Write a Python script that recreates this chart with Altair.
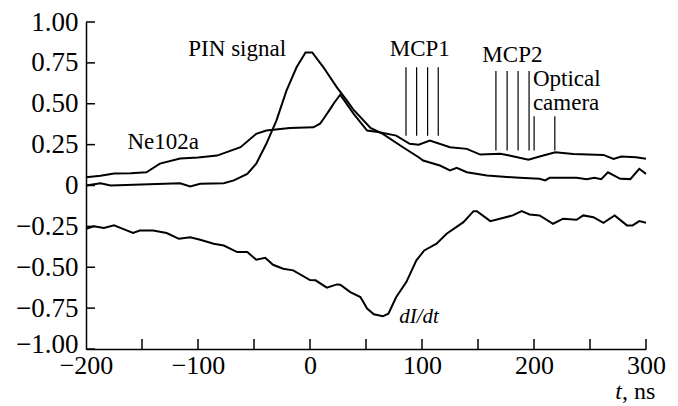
import altair as alt
import pandas as pd

# ---- data ----
ne_t = [-200, -187, -175, -160, -146, -134, -116, -100, -83, -62, -48, -39, -18, 3, 9, 12, 19, 21, 27,
        39, 51, 62, 77, 89, 97, 107, 125, 140, 152, 170, 178, 195, 205, 219, 235, 262, 271, 278, 291, 300]
ne_v = [0.05, 0.06, 0.073, 0.075, 0.081, 0.134, 0.165, 0.172, 0.183, 0.234, 0.316, 0.336, 0.352, 0.356, 0.378,
        0.407, 0.478, 0.5, 0.556, 0.438, 0.336, 0.326, 0.305, 0.255, 0.25, 0.275, 0.234, 0.224, 0.189, 0.194,
        0.183, 0.157, 0.177, 0.203, 0.193, 0.187, 0.163, 0.177, 0.173, 0.163]

pin_t = [-200, -187, -178, -116, -107, -98, -77, -68, -56, -48, -39, -30, -21, -12, -4, 2, 12, 24, 33,
         39, 54, 65, 83, 97, 101, 116, 125, 131, 140, 158, 170, 187, 205, 210, 214, 238, 247, 254, 260,
         266, 277, 286, 294, 300]
pin_v = [0.0, 0.014, 0.0, 0.014, -0.006, 0.01, 0.014, 0.031, 0.071, 0.133, 0.255, 0.397, 0.58, 0.723, 0.814,
         0.814, 0.723, 0.6, 0.519, 0.462, 0.352, 0.316, 0.234, 0.173, 0.153, 0.122, 0.092, 0.108, 0.081,
         0.061, 0.055, 0.047, 0.041, 0.031, 0.047, 0.047, 0.039, 0.047, 0.039, 0.081, 0.041, 0.039, 0.102, 0.071]

di_t = [-200, -193, -184, -175, -167, -158, -152, -140, -128, -117, -107, -98, -86, -77, -65, -56, -48, -40,
        -33, -24, -15, 0, 5, 15, 24, 27, 36, 45, 51, 57, 65, 70, 77, 86, 95, 102, 113, 122, 137, 146, 149,
        161, 173, 181, 189, 196, 205, 217, 226, 238, 244, 253, 262, 272, 283, 288, 294, 300]
di_v = [-0.265, -0.25, -0.26, -0.244, -0.265, -0.29, -0.275, -0.275, -0.291, -0.326, -0.316, -0.332, -0.356,
        -0.367, -0.407, -0.407, -0.454, -0.442, -0.485, -0.509, -0.519, -0.578, -0.58, -0.625, -0.605,
        -0.607, -0.652, -0.682, -0.753, -0.788, -0.8, -0.784, -0.682, -0.591, -0.458, -0.397, -0.356,
        -0.295, -0.224, -0.157, -0.157, -0.218, -0.197, -0.183, -0.157, -0.177, -0.183, -0.234, -0.203,
        -0.21, -0.183, -0.194, -0.228, -0.183, -0.244, -0.244, -0.218, -0.228]

mcp1_t = [85.7, 95.2, 105.0, 114.5]
mcp2_t = [166.0, 176.0, 185.8, 195.6]
opt_t = [200.1, 218.6]

label_text = ["PIN signal", "Ne102a", "MCP1", "MCP2", "Optical", "camera"]
label_x = [-65, -131, 98, 180.7, 199, 199]
label_y = [0.837, 0.269, 0.837, 0.80, 0.654, 0.507]

y_ticks = [1.0, 0.75, 0.5, 0.25, 0.0, -0.25, -0.5, -0.75, -1.0]
x_labels = [-200, -100, 0, 100, 200, 300]
x_ticks = [-150, -100, -50, 0, 50, 100, 150, 200, 250, 300]

FONT = "'Liberation Serif', 'Times New Roman', 'DejaVu Serif', serif"

rows = []
for name, ts, vs in [("Ne102a", ne_t, ne_v), ("PIN", pin_t, pin_v), ("dIdt", di_t, di_v)]:
    for i, (t, v) in enumerate(zip(ts, vs)):
        rows.append({"series": name, "t": t, "v": v, "order": i})
curves = pd.DataFrame(rows)

markers = pd.DataFrame(
    [{"t": t, "y1": 0.305, "y2": 0.723} for t in mcp1_t]
    + [{"t": t, "y1": 0.214, "y2": 0.70} for t in mcp2_t]
    + [{"t": t, "y1": 0.214, "y2": 0.423} for t in opt_t]
)
labels = pd.DataFrame({"text": label_text, "t": label_x, "v": label_y})

xscale = alt.Scale(domain=[-200, 300], nice=False, zero=False)
yscale = alt.Scale(domain=[-1, 1], nice=False, zero=False)

xaxis = alt.Axis(values=x_labels, format="d", tickSize=0, labelPadding=3, grid=False,
                 domainColor="black", domainWidth=1.5, labelFont=FONT, labelFontSize=26,
                 labelColor="black", title=None, labelFlush=False)
yaxis = alt.Axis(values=y_ticks, tickSize=0, labelPadding=8, grid=False,
                 domainColor="black", domainWidth=1.5, labelFont=FONT, labelFontSize=27,
                 labelColor="black", title=None,
                 labelExpr="datum.value == 0 ? '0' : format(datum.value, '.2f')",
                 labelOffset={"condition": {"test": "datum.value == -1", "value": -5}, "value": 0})

base = alt.Chart(curves)
lines = base.mark_line(color="black", strokeWidth=2).encode(
    x=alt.X("t:Q", scale=xscale, axis=xaxis),
    y=alt.Y("v:Q", scale=yscale, axis=yaxis),
    detail="series:N",
    order="order:Q",
)

mk = alt.Chart(markers).mark_rule(color="black", strokeWidth=1.2).encode(
    x="t:Q", y="y1:Q", y2="y2:Q"
)

ytk = alt.Chart(pd.DataFrame({"v": y_ticks})).mark_rule(color="black", strokeWidth=1.5).encode(
    y="v:Q", x=alt.value(0), x2=alt.value(9)
)
xtk = alt.Chart(pd.DataFrame({"t": x_ticks})).mark_rule(color="black", strokeWidth=1.5).encode(
    x="t:Q", y=alt.value(317), y2=alt.value(327)
)

txt_opt = alt.Chart(labels[labels["text"].isin(["Optical", "camera"])]).mark_text(
    font=FONT, fontSize=23, color="black", align="left", baseline="middle").encode(
    x="t:Q", y="v:Q", text="text:N")
txt_c = alt.Chart(labels[~labels["text"].isin(["Optical", "camera"])]).mark_text(
    font=FONT, fontSize=23, color="black", align="center", baseline="middle").encode(
    x="t:Q", y="v:Q", text="text:N")

didt = alt.Chart(pd.DataFrame({"text": ["dI/dt"], "t": [97.3], "v": [-0.806]})).mark_text(
    font=FONT, fontSize=21, fontStyle="italic", color="black", align="center", baseline="middle"
).encode(x="t:Q", y="v:Q", text="text:N")

tlab = alt.Chart(pd.DataFrame({"text": ["t"], "t": [278.5], "v": [-1.306]})).mark_text(
    font=FONT, fontSize=24, fontStyle="italic", color="black", align="right", baseline="alphabetic"
).encode(x="t:Q", y="v:Q", text="text:N")
nslab = alt.Chart(pd.DataFrame({"text": [", ns"], "t": [278.5], "v": [-1.306]})).mark_text(
    font=FONT, fontSize=24, color="black", align="left", baseline="alphabetic"
).encode(x="t:Q", y="v:Q", text="text:N")

chart = alt.layer(lines, mk, ytk, xtk, txt_c, txt_opt, didt, tlab, nslab).properties(
    width=560, height=327,
    autosize=alt.AutoSizeParams(type="none"),
    padding={"left": 86, "top": 22, "right": 32, "bottom": 57},
).configure_view(stroke=None)

chart.save("out.html", embed_options={"renderer": "svg", "actions": False})
